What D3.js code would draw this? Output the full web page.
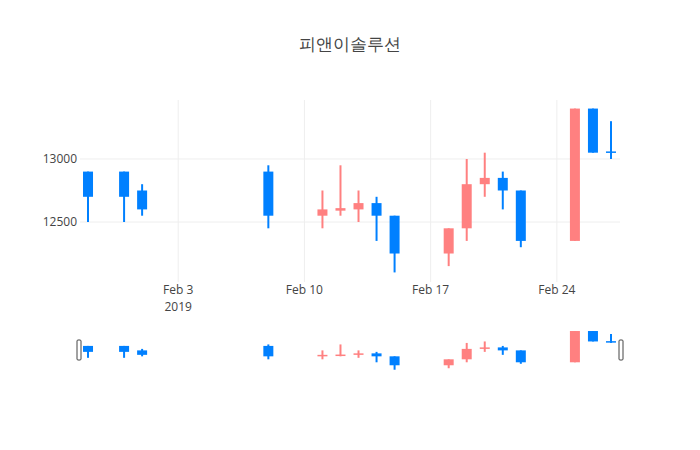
<!DOCTYPE html>
<html><head><meta charset="utf-8">
<script src="https://cdn.jsdelivr.net/npm/d3@7"></script>
<style>body{margin:0;background:#fff}</style></head>
<body><svg id="c" width="700" height="450"></svg>
<script>
const dates = ["2019-01-29","2019-01-31","2019-02-01","2019-02-08","2019-02-11","2019-02-12","2019-02-13","2019-02-14","2019-02-15","2019-02-18","2019-02-19","2019-02-20","2019-02-21","2019-02-22","2019-02-25","2019-02-26","2019-02-27"];
const open  = [12900,12900,12750,12900,12550,12590,12600,12650,12550,12250,12450,12800,12850,12750,12350,13400,13060];
const high  = [12900,12900,12800,12950,12750,12950,12750,12700,12550,12450,13000,13050,12900,12750,13400,13400,13300];
const low   = [12500,12500,12550,12450,12450,12550,12500,12350,12100,12150,12350,12700,12600,12300,12350,13050,13000];
const close = [12700,12700,12600,12550,12600,12610,12650,12550,12250,12450,12800,12850,12750,12350,13400,13050,13050];
const yTicks = [12500,13000];
const xTicks = ["2019-02-03","2019-02-10","2019-02-17","2019-02-24"];

const svg = d3.select("#c");
const font = "'Open Sans', sans-serif";
const P = d => new Date(d+"T00:00:00Z");
const data = dates.map((d,i)=>({t:P(d),o:open[i],h:high[i],l:low[i],c:close[i]}));
const x = d3.scaleUtc().domain([new Date(Date.UTC(2019,0,28,13,20)), new Date(Date.UTC(2019,1,27,12))]).range([80,620]);
const y = d3.scaleLinear().domain([12024,13468]).range([282,100]);
const INC="#ff8080", DEC="#0080ff";

svg.append("text").attr("x",350).attr("y",50).attr("text-anchor","middle").attr("font-family",font).attr("font-size",17).attr("fill","#444").text("피앤이솔루션");

svg.append("g").selectAll("line").data(xTicks).join("line").attr("x1",d=>x(P(d))).attr("x2",d=>x(P(d))).attr("y1",100).attr("y2",282).attr("stroke","#eee");
svg.append("g").selectAll("line").data(yTicks).join("line").attr("x1",80).attr("x2",620).attr("y1",d=>y(d)).attr("y2",d=>y(d)).attr("stroke","#eee");
svg.append("g").selectAll("text").data(yTicks).join("text").attr("x",77).attr("y",d=>y(d)+4).attr("text-anchor","end").attr("font-family",font).attr("font-size",12).attr("fill","#444").text(d=>d);
svg.append("g").selectAll("text").data(xTicks).join("text").attr("x",d=>x(P(d))).attr("y",294).attr("text-anchor","middle").attr("font-family",font).attr("font-size",12).attr("fill","#444").text(d=>d3.utcFormat("%b %-d")(P(d)));
svg.append("text").attr("x",x(P(xTicks[0]))).attr("y",311).attr("text-anchor","middle").attr("font-family",font).attr("font-size",12).attr("fill","#444").text("2019");

function candles(g, yy, bw){
  const c = g.selectAll("g").data(data).join("g");
  c.append("line").attr("x1",d=>x(d.t)).attr("x2",d=>x(d.t)).attr("y1",d=>yy(d.h)).attr("y2",d=>yy(d.l)).attr("stroke",d=>d.c>d.o?INC:DEC).attr("stroke-width",2);
  c.append("rect").attr("x",d=>x(d.t)-bw/2).attr("width",bw).attr("y",d=>yy(Math.max(d.o,d.c))).attr("height",d=>Math.max(1.5,Math.abs(yy(d.o)-yy(d.c)))).attr("fill",d=>d.c>d.o?INC:DEC);
}
svg.append("clipPath").attr("id","pc").append("rect").attr("x",80).attr("y",100).attr("width",540).attr("height",182);
candles(svg.append("g").attr("clip-path","url(#pc)"), y, 10);

const ys = d3.scaleLinear().domain([12024,13468]).range([372,329]);
candles(svg.append("g"), ys, 10);
[79,621].forEach(hx=>svg.append("rect").attr("x",hx-2).attr("y",340).attr("width",4).attr("height",20).attr("rx",1).attr("fill","#fff").attr("stroke","#444").attr("stroke-width",1));
</script></body></html>
